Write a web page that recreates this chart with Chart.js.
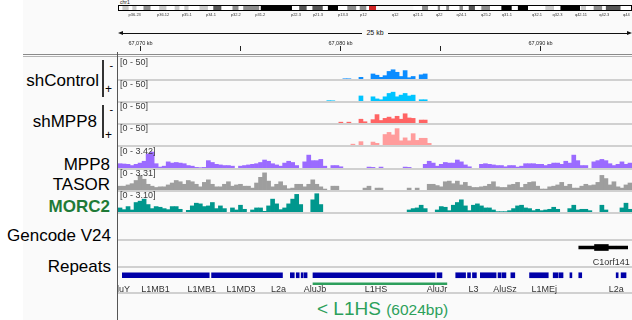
<!DOCTYPE html>
<html lang="en">
<head>
<meta charset="utf-8">
<title>L1HS - IGV</title>
<script src="https://cdn.jsdelivr.net/npm/chart.js@4.4.1/dist/chart.umd.min.js"></script>
<style>
  html, body { margin: 0; padding: 0; }
  body { position: relative; width: 632px; height: 320px; overflow: hidden; background: #ffffff;
         font-family: "Liberation Sans", Arial, Helvetica, sans-serif; color: #000; }
  .abs { position: absolute; }
  .nome { position: absolute; font-size: 17px; line-height: 17px; white-space: nowrap; text-align: right; }
  .escala { position: absolute; left: 120px; font-size: 9px; line-height: 9px; color: #3c3c3c; white-space: nowrap; z-index: 2; }
  .sep { position: absolute; left: 118px; width: 514px; height: 2px; background: #d0d0d0; }
  .fita { position: absolute; line-height: 1; color: #000; }
  canvas { position: absolute; }
</style>
</head>
<body>
<div class="abs" style="left:23px; top:0; width:609px; height:320px; background:#fafafa;"></div>

<!-- cabeçalho -->
<div class="abs" style="left:120px; top:0; font-size:5px; line-height:5px; color:#222;">chr1</div>
<div class="abs" style="left:121px; top:33px; width:508px; height:1px; background:#111;"></div>
<div class="abs" style="left:118px; top:31px; width:0; height:0; border-right:5px solid #111; border-top:2.5px solid transparent; border-bottom:2.5px solid transparent;"></div>
<div class="abs" style="left:627px; top:31px; width:0; height:0; border-left:5px solid #111; border-top:2.5px solid transparent; border-bottom:2.5px solid transparent;"></div>
<div class="abs" style="left:362px; top:29px; width:26px; text-align:center; font-size:7px; line-height:8px; background:#fafafa; color:#111;">25 kb</div>
<div class="abs" style="left:23px; top:54px; width:609px; height:1px; background:#8a8a8a;"></div>
<div class="abs" style="left:23px; top:56px; width:609px; height:1px; background:#b4b4b4;"></div>
<div class="abs" style="left:117px; top:52px; width:1px; height:268px; background:#555;"></div>

<!-- nomes das trilhas -->
<div class="nome" style="right:533px; top:72px;">shControl</div>
<div class="abs" style="left:102px; top:60px; width:1.5px; height:37px; background:#333;"></div>
<div class="fita" style="left:109.5px; top:60px; font-size:11px;">-</div>
<div class="fita" style="left:105px; top:83px; font-size:12px;">+</div>
<div class="nome" style="right:535px; top:113px;">shMPP8</div>
<div class="abs" style="left:102px; top:105px; width:1.5px; height:33px; background:#333;"></div>
<div class="fita" style="left:109.5px; top:104px; font-size:11px;">-</div>
<div class="fita" style="left:105px; top:129px; font-size:12px;">+</div>
<div class="nome" style="right:522px; top:155.5px;">MPP8</div>
<div class="nome" style="right:522px; top:176px;">TASOR</div>
<div class="nome" style="right:522px; top:198px; font-weight:bold; color:#1f7a37;">MORC2</div>
<div class="nome" style="right:521px; top:227px;">Gencode V24</div>
<div class="nome" style="right:521px; top:258px;">Repeats</div>

<div class="sep" style="top:239px;"></div>
<div class="sep" style="top:266px;"></div>
<div class="sep" style="top:292px;"></div>

<div class="abs" style="left:317px; top:299px; font-size:19px; line-height:19px; color:#2ca05a; white-space:nowrap;">&lt; L1HS <span style="font-size:15.5px;">(6024bp)</span></div>

<script>
Chart.defaults.font.family = '"Liberation Sans", Arial, sans-serif';

// janela mostrada (kb) no chr1
var inicioKb = 67068.9;
var fimKb = 67094.6;

// bins de 0,2 kb das trilhas de sinal
var posicoes = [];
for (let i = 0; i < 128; i++) {
    posicoes.push((inicioKb + i * 0.2).toFixed(1));
}

var shControlMenos = [
    0, 0, 0, 0, 0, 0, 0, 0, 0, 0, 0, 0, 0, 0, 0, 0,
    0, 0, 0, 0, 0, 0, 0, 0, 0, 0, 0, 0, 0, 0, 0, 0,
    0, 0, 0, 0, 0, 0, 0, 0, 0, 0, 0, 0, 0, 0, 0, 0,
    0, 0, 0, 0, 0, 0, 0, 0, 0.5, 0.5, 0, 0, 4, 0, 0, 12,
    9, 4, 8, 18, 22, 16, 6, 20, 3, 6, 0, 10, 12, 0, 0, 0,
    0, 0, 0, 0, 0, 0, 0, 0, 0, 0, 0, 0, 0, 0, 0, 0,
    0, 0, 0, 0, 0, 0, 0, 0, 0, 0, 0, 0, 0, 0, 0, 0,
    0, 0, 0, 0, 0, 0, 0, 0, 0, 0, 0, 0, 0, 0, 0, 0
];
var shControlMais = [
    0, 0, 0, 0, 0, 0, 0, 0, 0, 0, 0, 0, 0, 0, 0, 0,
    0, 0, 0, 0, 0, 0, 0, 0, 0, 0, 0, 0, 0, 0, 0, 0,
    0, 0, 0, 0, 0, 0, 0, 0, 0, 0, 0, 0, 0, 0, 0, 0,
    0, 0, 0, 0, 0.8, 0.5, 0, 0, 0, 0, 0, 0, 12, 0, 0, 10,
    5, 3, 10, 18, 21, 10, 14, 18, 12, 14, 0, 3, 3, 0, 0, 0,
    0, 0, 0, 0, 0, 0, 0, 0, 0, 0, 0, 0, 0, 0, 0, 0,
    0, 0, 0, 0, 0, 0, 0, 0, 0, 0, 0, 0, 0, 0, 0, 0,
    0, 0, 0, 0, 0, 0, 0, 0, 0, 0, 0, 0, 0, 0, 0, 0
];
var shMPP8Menos = [
    0, 0, 0, 0, 0, 0, 0, 0, 0, 0, 0, 0, 0, 0, 0, 0,
    0, 0, 0, 0, 0, 0, 0, 0, 0, 0, 0, 0, 0, 0, 0, 0,
    0, 0, 0, 0, 0, 0, 0, 0, 0, 0, 0, 0, 0, 0, 0, 0,
    0, 0, 0, 0, 0, 0, 0, 2, 0, 2, 0, 0, 9, 3, 0, 8,
    20, 6, 11, 14, 10, 16, 9, 22, 12, 11, 0, 7, 7, 0, 0, 0,
    0, 0, 0, 0, 0, 0, 0, 0, 0, 0, 0, 0, 0, 0, 0, 0,
    0, 0, 0, 0, 0, 0, 0, 0, 0, 0, 0, 0, 0, 0, 0, 0,
    0, 0, 0, 0, 0, 0, 0, 0, 0, 0, 0, 0, 0, 0, 0, 0
];
var shMPP8Mais = [
    0, 0, 0, 0, 0, 0, 0, 0, 0, 0, 0, 0, 0, 0, 0, 0,
    0, 0, 0, 0, 0, 0, 0, 0, 0, 0, 0, 0, 0, 0, 0, 0,
    0, 0, 0, 0, 0, 0, 0, 0, 0, 0, 0, 0, 0, 0, 0, 0,
    0, 0, 0, 0, 0, 0, 0, 0, 0, 0, 2, 0, 8, 0, 0, 7,
    4, 0, 25, 30, 24, 39, 10, 17, 10, 27, 11, 16, 16, 4, 0, 0,
    0, 0, 0, 0, 0, 0, 0, 0, 0, 0, 0, 0, 0, 0, 0, 0,
    0, 0, 0, 0, 0, 0, 0, 0, 0, 0, 0, 0, 0, 0, 0, 0,
    0, 0, 0, 0, 0, 0, 0, 0, 0, 0, 0, 0, 0, 0, 0, 0
];
var mpp8 = [
    0.7, 0.65, 0.6, 0.4, 0.6, 0.8, 1.1, 2.3, 2.6, 0.7, 0.15, 0.3, 1.0, 0.8, 0.9, 0.8,
    0.7, 0.4, 0.3, 0.1, 0.05, 0.1, 1.2, 0.9, 0.6, 0.5, 0.4, 0.4, 0.3, 0, 0.3, 0.4,
    0.5, 0.6, 0.7, 0.9, 1.3, 1.1, 0.7, 0.5, 0.3, 0.8, 1.1, 0.9, 0.4, 0, 1.0, 2.1,
    1.2, 1.2, 1.4, 0.3, 0, 0.4, 0.4, 0.2, 0, 0, 0, 0, 0, 0, 0.15, 0.1,
    0, 0.15, 0, 0, 0, 0, 0, 0.15, 0.1, 0, 0, 0, 0.6, 1.1, 0.8, 0.3,
    0.6, 0.9, 0.8, 0.8, 1.3, 1.0, 0.5, 0.2, 0, 0, 0.6, 0.7, 0.6, 0.5, 0.4, 0.4,
    0.2, 0.4, 0.4, 0.15, 0.3, 0.7, 0.7, 0.7, 0.6, 0.6, 0.4, 0.6, 0.8, 0.8, 0.6, 1.1,
    0.8, 2.1, 1.2, 0.4, 0.4, 0, 1.0, 1.2, 1.4, 1.2, 0.7, 0.4, 0.6, 1.0, 0.6, 0.8
];
var tasor = [
    0.6, 0.6, 0.8, 1.0, 1.5, 2.3, 1.7, 0.9, 0.6, 0.4, 0.5, 0.5, 0.8, 1.1, 1.5, 1.3,
    0.9, 1.5, 1.3, 0.9, 0.5, 1.2, 1.6, 0.9, 0.5, 0.5, 0.9, 1.3, 0.6, 0.8, 0.9, 0.6,
    0.6, 0.3, 1.1, 2.0, 2.7, 1.4, 0.5, 0.9, 1.3, 0.7, 0.2, 0.3, 0.9, 0.9, 0.5, 0.9,
    1.6, 0.9, 0.5, 0.15, 0, 0.6, 0.6, 0, 0, 0, 0, 0, 0, 0.3, 0.6, 0,
    0.3, 0.3, 0, 0, 0, 0, 0, 0, 0.3, 0, 0.3, 0, 0, 0.9, 0.9, 0.7,
    0.5, 1.3, 1.4, 1.0, 1.4, 0.8, 1.2, 0.6, 0.4, 0.4, 0.5, 0.6, 0.9, 1.3, 0.5, 0.4,
    0.4, 0.8, 0.9, 1.2, 0.4, 0.9, 1.2, 1.3, 0.6, 0.15, 0.15, 0.5, 0.6, 0.8, 1.2, 0.6,
    0.9, 0.3, 0.3, 0.6, 0.9, 0.7, 0.8, 1.2, 2.3, 1.8, 0.8, 1.3, 0.5, 0.3, 0.8, 1.1
];
var morc2 = [
    0.6, 0.35, 0.8, 0.3, 1.4, 1.6, 1.9, 1.1, 0.5, 0.8, 0.7, 0.5, 0.35, 0.8, 0.8, 0.4,
    0, 0.25, 0.9, 1.3, 1.2, 0.8, 0.9, 1.4, 0.5, 0.9, 0.5, 0, 0.6, 0.3, 1.0, 0.4,
    0, 0.3, 0.6, 0.6, 0.1, 0.9, 1.9, 1.2, 0.35, 0.6, 1.2, 1.9, 2.6, 1.1, 0, 0,
    1.8, 2.7, 1.1, 0, 0, 0, 0, 0, 0, 0, 0, 0, 0, 0, 0, 0,
    0, 0, 0, 0, 0, 0, 0, 0, 0.3, 0.5, 0.6, 1.0, 0.5, 0, 0, 0.3,
    0.8, 0.7, 0.2, 1.0, 1.4, 1.8, 0.9, 0.2, 1.0, 1.2, 0.9, 0.6, 0.6, 0.3, 0.05, 0.05,
    0.05, 0.2, 0.5, 0.9, 1.0, 0.6, 0.5, 0.2, 0.4, 0.2, 0.3, 0.4, 0.7, 0.4, 0, 0,
    0.5, 1.0, 0.3, 0.4, 0.4, 0.2, 0, 0, 1.0, 0.3, 0, 0, 0, 0.6, 1.3, 0.4
];

var escalas = [50, 50, 50, 50, 3.42, 3.31, 3.10];
var rotulosEscala = ['[0 - 50]', '[0 - 50]', '[0 - 50]', '[0 - 50]', '[0 - 3.42]', '[0 - 3.31]', '[0 - 3.10]'];

// citobandas do chr1 (Mb)
var tamanhoChr1 = 248.9;
var bandaNome = ['p36.33', 'p36.32', 'p36.31', 'p36.23', 'p36.22', 'p36.21', 'p36.13', 'p36.12', 'p36.11', 'p35.3',
    'p35.2', 'p35.1', 'p34.3', 'p34.2', 'p34.1', 'p33', 'p32.3', 'p32.2', 'p32.1', 'p31.3',
    'p31.2', 'p31.1', 'p22.3', 'p22.2', 'p22.1', 'p21.3', 'p21.2', 'p21.1', 'p13.3', 'p13.2',
    'p13.1', 'p12', 'p11.2', 'p11.1', 'q11', 'q12', 'q21.1', 'q21.2', 'q21.3', 'q22',
    'q23.1', 'q23.2', 'q23.3', 'q24.1', 'q24.2', 'q24.3', 'q25.1', 'q25.2', 'q25.3', 'q31.1',
    'q31.2', 'q31.3', 'q32.1', 'q32.2', 'q32.3', 'q41', 'q42.11', 'q42.12', 'q42.13', 'q42.2',
    'q42.3', 'q43', 'q44'];
var bandaInicio = [0, 2.3, 5.3, 7.1, 9.1, 12.5, 15.9, 20.1, 23.6, 27.6,
    29.9, 32.3, 34.3, 39.6, 43.7, 46.3, 50.2, 55.6, 58.5, 60.8,
    68.5, 69.3, 84.4, 87.9, 91.5, 94.3, 99.3, 101.8, 106.7, 111.2,
    115.5, 117.2, 120.4, 121.7, 123.4, 125.1, 143.2, 147.4, 150.3, 155.0,
    156.1, 159.1, 160.5, 165.5, 167.2, 170.0, 173.0, 176.1, 180.3, 185.8,
    190.8, 193.8, 198.7, 207.1, 211.3, 214.4, 223.9, 224.4, 226.8, 230.5,
    234.6, 236.4, 243.5];
var bandaCorante = ['gneg', 'gpos25', 'gneg', 'gpos25', 'gneg', 'gpos50', 'gneg', 'gpos25', 'gneg', 'gpos25',
    'gneg', 'gpos25', 'gneg', 'gpos25', 'gneg', 'gpos75', 'gneg', 'gpos50', 'gneg', 'gpos50',
    'gneg', 'gpos100', 'gneg', 'gpos75', 'gneg', 'gpos75', 'gneg', 'gpos100', 'gneg', 'gpos50',
    'gneg', 'gpos50', 'gneg', 'acen', 'acen', 'gvar', 'gneg', 'gpos50', 'gneg', 'gpos50',
    'gneg', 'gpos50', 'gneg', 'gpos50', 'gneg', 'gpos75', 'gneg', 'gpos50', 'gneg', 'gpos100',
    'gneg', 'gpos100', 'gneg', 'gpos25', 'gneg', 'gpos100', 'gneg', 'gpos25', 'gneg', 'gpos50',
    'gneg', 'gpos75', 'gneg'];
var bandasComRotulo = ['p36.23', 'p36.12', 'p35.1', 'p34.1', 'p32.2', 'p31.2', 'p22.3', 'p21.3', 'p13.3', 'p12',
    'q12', 'q21.1', 'q22', 'q24.1', 'q25.2', 'q31.1', 'q32.1', 'q32.3', 'q42.11', 'q42.3', 'q44'];
var coresCorante = { gneg: '#ffffff', gpos25: '#c8c8c8', gpos50: '#8c8c8c', gpos75: '#555555', gpos100: '#000000', acen: '#d02424', gvar: '#f6f6f6' };

// repeats (RepeatMasker) em kb
var repeatInicio = [67068.90, 67073.45, 67077.45, 67077.75, 67078.00, 67078.15, 67078.60, 67084.90, 67085.85, 67086.45,
    67086.70, 67087.10, 67088.00, 67088.20, 67088.65, 67089.60, 67090.80, 67091.10, 67091.65, 67092.10,
    67094.00, 67094.25];
var repeatFim = [67073.33, 67077.05, 67077.65, 67077.90, 67078.10, 67078.30, 67084.80, 67085.15, 67086.35, 67086.60,
    67086.90, 67087.90, 67088.15, 67088.40, 67088.85, 67090.55, 67091.05, 67091.30, 67091.75, 67092.25,
    67094.10, 67094.50];
var setasRepeat = [67069.6, 67070.4, 67070.85, 67071.6, 67072.6, 67073.05, 67074.1, 67075.1, 67076.5,
    67079.25, 67080.1, 67080.9, 67081.75, 67082.55, 67083.35, 67084.15, 67087.4];
var repeatNomes = ['AluY', 'L1MB1', 'L1MB1', 'L1MD3', 'L2a', 'AluJb', 'L1HS', 'AluJr', 'L3', 'AluSz', 'L1MEj', 'L2a'];
var repeatNomesKb = [67068.82, 67070.6, 67072.95, 67074.95, 67076.85, 67078.7, 67081.8, 67084.9, 67086.75, 67088.35, 67090.35, 67094.0];

var l1hsInicio = 67078.6;
var l1hsFim = 67085.4;

// gene C1orf141 (Gencode V24)
var geneNome = 'C1orf141';
var geneInicio = 67092.1;
var geneFim = 67094.6;
var cdsInicio = 67092.9;
var cdsFim = 67093.6;
var geneSeta = 67093.95;

// layout das trilhas de sinal
var trilhas = [
    { dados: shControlMenos, cor: '#0b8cff', topo: 58 },
    { dados: shControlMais, cor: '#00c4ff', topo: 80 },
    { dados: shMPP8Menos, cor: '#ff6464', topo: 102 },
    { dados: shMPP8Mais, cor: '#ff9c9c', topo: 124 },
    { dados: mpp8, cor: '#9b6bff', topo: 147 },
    { dados: tasor, cor: '#9e9e9e', topo: 169 },
    { dados: morc2, cor: '#00978d', topo: 191 }
];

function novoCanvas(left, top, width, height) {
    var c = document.createElement('canvas');
    c.width = width;
    c.height = height;
    c.style.left = left + 'px';
    c.style.top = top + 'px';
    document.body.appendChild(c);
    return c;
}

var semInteracao = {
    responsive: false,
    animation: false,
    events: []
};

function criarTrilha(trilha, i) {
    var canvas = novoCanvas(118, trilha.topo, 514, 21);
    new Chart(canvas, {
        type: 'bar',
        data: {
            labels: posicoes,
            datasets: [{
                // bins vazios não desenham nada
                data: trilha.dados.map(v => v === 0 ? null : v),
                backgroundColor: trilha.cor,
                borderWidth: 0,
                barPercentage: 1,
                categoryPercentage: 1
            }]
        },
        options: {
            ...semInteracao,
            layout: { padding: 0 },
            plugins: { legend: { display: false }, tooltip: { enabled: false } },
            scales: {
                x: { display: false },
                y: { display: false, min: 0, max: escalas[i] }
            }
        }
    });

    var sep = document.createElement('div');
    sep.className = 'sep';
    sep.style.top = (trilha.topo + 21) + 'px';
    document.body.appendChild(sep);

    var rotulo = document.createElement('div');
    rotulo.className = 'escala';
    rotulo.style.top = trilha.topo + 'px';
    rotulo.textContent = rotulosEscala[i];
    document.body.appendChild(rotulo);
}

trilhas.forEach(criarTrilha);

// ideograma
var contornoIdeograma = {
    id: 'contornoIdeograma',
    afterDatasetsDraw(chart) {
        var ctx = chart.ctx;
        var area = chart.chartArea;
        var x = chart.scales.x;
        ctx.save();
        ctx.strokeStyle = '#000';
        ctx.lineWidth = 1;
        ctx.strokeRect(area.left + 0.5, area.top + 0.5, area.right - area.left - 1, area.bottom - area.top - 1);
        ctx.font = '4px "Liberation Sans", Arial, sans-serif';
        ctx.fillStyle = '#333';
        ctx.textAlign = 'center';
        for (let i = 0; i < bandaNome.length; i++) {
            if (bandasComRotulo.indexOf(bandaNome[i]) >= 0) {
                var fim = i + 1 < bandaInicio.length ? bandaInicio[i + 1] : tamanhoChr1;
                ctx.fillText(bandaNome[i], x.getPixelForValue((bandaInicio[i] + fim) / 2), area.bottom + 4.5);
            }
        }
        ctx.restore();
    }
};

var bandas = [];
var coresBandas = [];
for (let i = 0; i < bandaNome.length; i++) {
    var fimBanda = i + 1 < bandaInicio.length ? bandaInicio[i + 1] : tamanhoChr1;
    bandas.push({ x: [bandaInicio[i], fimBanda], y: 'chr1' });
    coresBandas.push(coresCorante[bandaCorante[i]]);
}

new Chart(novoCanvas(118, 4, 514, 14), {
    type: 'bar',
    data: {
        labels: ['chr1'],
        datasets: [
            { data: bandas, backgroundColor: coresBandas, borderWidth: 0, grouped: false, barPercentage: 1, categoryPercentage: 1 },
            { data: [{ x: [inicioKb / 1000, fimKb / 1000], y: 'chr1' }], backgroundColor: '#ff0000', minBarLength: 3, grouped: false, barPercentage: 1, categoryPercentage: 1 }
        ]
    },
    options: {
        ...semInteracao,
        indexAxis: 'y',
        layout: { padding: { top: 1, bottom: 7 } },
        plugins: { legend: { display: false }, tooltip: { enabled: false } },
        scales: {
            x: { type: 'linear', display: false, min: 0, max: tamanhoChr1 },
            y: { display: false }
        }
    },
    plugins: [contornoIdeograma]
});

// régua em kb: marcas a cada 5 kb, rótulo a cada 10 kb
var marcasRegua = {
    id: 'marcasRegua',
    afterDraw(chart) {
        var ctx = chart.ctx;
        var x = chart.scales.x;
        ctx.save();
        ctx.strokeStyle = '#222';
        ctx.fillStyle = '#222';
        ctx.lineWidth = 1;
        ctx.font = '5.5px "Liberation Sans", Arial, sans-serif';
        ctx.textAlign = 'center';
        ctx.textBaseline = 'middle';
        x.ticks.forEach(function (t) {
            var px = Math.round(x.getPixelForValue(t.value)) + 0.5;
            ctx.beginPath();
            ctx.moveTo(px, 16);
            ctx.lineTo(px, 21);
            ctx.stroke();
            var kb = Math.round(t.value);
            if (kb % 10 === 0) {
                ctx.fillText(kb.toLocaleString('en-US') + ' kb', px, 13);
            }
        });
        ctx.restore();
    }
};

new Chart(novoCanvas(118, 30, 514, 25), {
    type: 'scatter',
    data: { datasets: [] },
    options: {
        ...semInteracao,
        layout: { padding: 0 },
        plugins: { legend: { display: false }, tooltip: { enabled: false } },
        scales: {
            x: {
                type: 'linear',
                display: false,
                min: inicioKb,
                max: fimKb,
                ticks: { stepSize: 5, includeBounds: false }
            },
            y: { display: false }
        }
    },
    plugins: [marcasRegua]
});

// gene
var rotuloGene = {
    id: 'rotuloGene',
    afterDatasetsDraw(chart) {
        var ctx = chart.ctx;
        var x = chart.scales.x;
        ctx.save();
        ctx.font = '9px "Liberation Sans", Arial, sans-serif';
        ctx.fillStyle = '#333';
        ctx.textAlign = 'center';
        ctx.fillText(geneNome, x.getPixelForValue((cdsInicio + geneFim) / 2), chart.chartArea.bottom + 14);
        ctx.restore();
    }
};

new Chart(novoCanvas(118, 240, 514, 27), {
    type: 'bar',
    data: {
        labels: ['gene'],
        datasets: [
            { data: [{ x: [geneInicio, geneFim], y: 'gene' }], backgroundColor: '#000', barThickness: 3, grouped: false },
            { data: [{ x: [cdsInicio, cdsFim], y: 'gene' }], backgroundColor: '#000', barThickness: 6, grouped: false },
            { type: 'scatter', data: [{ x: geneSeta, y: 'gene' }], pointStyle: 'triangle', rotation: -90, pointRadius: 2, backgroundColor: '#1010ff', borderWidth: 0 }
        ]
    },
    options: {
        ...semInteracao,
        indexAxis: 'y',
        layout: { padding: { bottom: 16 } },
        plugins: { legend: { display: false }, tooltip: { enabled: false } },
        scales: {
            x: { type: 'linear', display: false, min: inicioKb, max: fimKb },
            y: { display: false }
        }
    },
    plugins: [rotuloGene]
});

// repeats
var rotulosRepeats = {
    id: 'rotulosRepeats',
    afterDatasetsDraw(chart) {
        var ctx = chart.ctx;
        var x = chart.scales.x;
        ctx.save();
        ctx.font = '9px "Liberation Sans", Arial, sans-serif';
        ctx.fillStyle = '#333';
        ctx.textAlign = 'center';
        for (let i = 0; i < repeatNomes.length; i++) {
            ctx.fillText(repeatNomes[i], x.getPixelForValue(repeatNomesKb[i]), chart.chartArea.bottom + 4);
        }
        ctx.restore();
    }
};

var blocosRepeat = [];
for (let i = 0; i < repeatInicio.length; i++) {
    blocosRepeat.push({ x: [repeatInicio[i], repeatFim[i]], y: 'Repeats' });
}

new Chart(novoCanvas(118, 267, 514, 27), {
    type: 'bar',
    data: {
        labels: ['Repeats', 'L1HS'],
        datasets: [
            { data: blocosRepeat, backgroundColor: '#0000a8', barThickness: 5, grouped: false },
            { data: [{ x: [l1hsInicio, l1hsFim], y: 'L1HS' }], backgroundColor: '#2d9f5c', barThickness: 2, grouped: false },
            { type: 'scatter', data: setasRepeat.map(k => ({ x: k, y: 'Repeats' })), pointStyle: 'rect', pointRadius: 1, backgroundColor: '#ffffff', borderWidth: 0 }
        ]
    },
    options: {
        ...semInteracao,
        indexAxis: 'y',
        layout: { padding: { bottom: 6 } },
        plugins: { legend: { display: false }, tooltip: { enabled: false } },
        scales: {
            x: { type: 'linear', display: false, min: inicioKb, max: fimKb },
            y: { display: false }
        }
    },
    plugins: [rotulosRepeats]
});
</script>
</body>
</html>
